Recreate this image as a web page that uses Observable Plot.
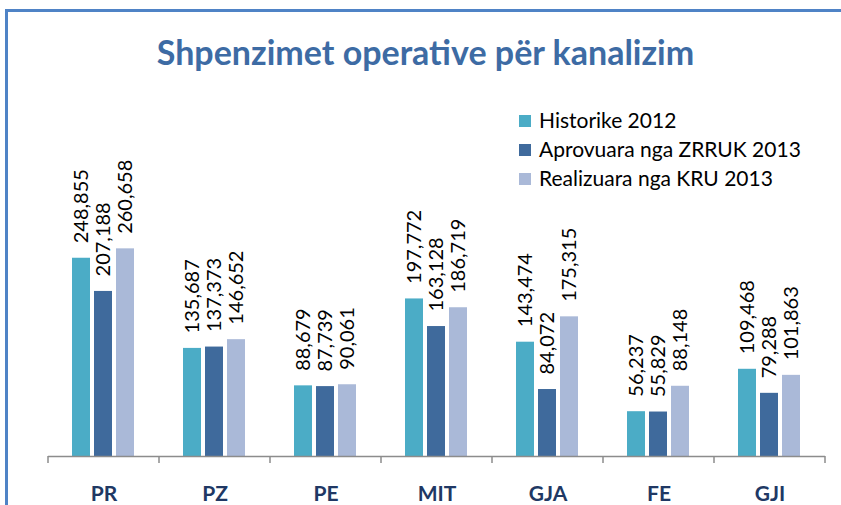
<!DOCTYPE html>
<html>
<head>
<meta charset="utf-8">
<script src="https://cdn.jsdelivr.net/npm/d3@7"></script>
<script src="https://cdn.jsdelivr.net/npm/@observablehq/plot@0.6"></script>
<style>
  html, body { margin: 0; padding: 0; background: #fff; }
  #wrap { position: relative; width: 841px; height: 505px; overflow: hidden; font-family: Lato, "Open Sans", sans-serif; }
  #frame { position: absolute; left: 5px; top: 9px; width: 900px; height: 600px; border-left: 3px solid #4f83c6; border-top: 3px solid #4f83c6; box-sizing: border-box; }
  #chart { position: absolute; left: 0; top: 0; }
  #title { position: absolute; left: 5px; width: 841px; top: 35px; text-align: center; font-size: 34px; line-height: 1; font-weight: 700; color: #3d6ba4; }
  #legend { position: absolute; left: 519px; top: 105px; font-size: 21px; line-height: 29px; color: #000; }
  #legend .row { display: flex; align-items: center; white-space: nowrap; }
  #legend .sw { width: 12px; height: 12px; margin-right: 8px; position: relative; top: 1px; }
</style>
</head>
<body>
<div id="wrap">
  <div id="frame"></div>
  <div id="chart"></div>
  <div id="title">Shpenzimet operative për kanalizim</div>
  <div id="legend"></div>
</div>
<script>
const categories = ["PR", "PZ", "PE", "MIT", "GJA", "FE", "GJI"];
const seriesNames = ["Historike 2012", "Aprovuara nga ZRRUK 2013", "Realizuara nga KRU 2013"];
const historike2012 = [248855, 135687, 88679, 197772, 143474, 56237, 109468];
const aprovuara2013 = [207188, 137373, 87739, 163128, 84072, 55829, 79288];
const realizuara2013 = [260658, 146652, 90061, 186719, 175315, 88148, 101863];
const seriesColors = ["#4bacc6", "#3f6a9c", "#aab9d8"];

const seriesValues = [historike2012, aprovuara2013, realizuara2013];
const rows = [];
categories.forEach((c, i) => {
  seriesNames.forEach((s, j) => rows.push({cat: c, series: s, value: seriesValues[j][i]}));
});
const fmt = d3.format(",");

const plot = Plot.plot({
  width: 841,
  height: 505,
  marginLeft: 47,
  marginRight: 15,
  marginTop: 217,
  marginBottom: 49,
  style: {background: "transparent", overflow: "visible"},
  fx: {domain: categories, padding: 0, label: null},
  x: {domain: seriesNames, paddingInner: 0.18, paddingOuter: 1.06, axis: null},
  y: {domain: [0, 300000], axis: null},
  color: {domain: seriesNames, range: seriesColors},
  marks: [
    Plot.barY(rows, {fx: "cat", x: "series", y: "value", fill: "series"}),
    Plot.text(rows, {
      fx: "cat", x: "series", y: "value", text: d => fmt(d.value),
      rotate: -90, textAnchor: "start", lineAnchor: "middle", dy: -15,
      fontSize: 20, fill: "#000", fontFamily: "Lato, 'Open Sans', sans-serif"
    }),
    Plot.ruleY([0], {stroke: "#8c8c8c", strokeWidth: 1.5}),
    Plot.axisFx({
      anchor: "bottom", tickSize: 0, tickPadding: 30, fontSize: 21, fontWeight: "bold",
      color: "#203864", label: null, fontFamily: "Lato, 'Open Sans', sans-serif"
    })
  ]
});
document.getElementById("chart").appendChild(plot);

// tick marks at category boundaries, positioned via the fx and y scales
const fxs = plot.scale("fx");
const ys = plot.scale("y");
const y0 = ys.apply(0);
const edges = categories.map(c => fxs.apply(c));
edges.push(fxs.apply(categories[categories.length - 1]) + fxs.bandwidth);
d3.select(plot).append("g")
  .selectAll("line").data(edges).join("line")
  .attr("x1", d => d).attr("x2", d => d)
  .attr("y1", y0).attr("y2", y0 + 7)
  .attr("stroke", "#8c8c8c").attr("stroke-width", 1.5);

// legend
const lg = d3.select("#legend");
seriesNames.forEach((s, i) => {
  const r = lg.append("div").attr("class", "row");
  r.append("div").attr("class", "sw").style("background", seriesColors[i]);
  r.append("span").text(s);
});
</script>
</body>
</html>
